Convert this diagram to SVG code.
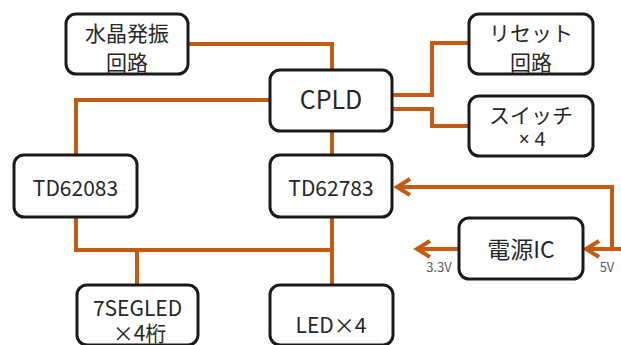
<svg xmlns="http://www.w3.org/2000/svg" width="621" height="345" viewBox="0 0 621 345">
<style>
.box{fill:#fff;stroke:#1a1a1a;stroke-width:3}
.t{font-family:"Noto Sans CJK JP","Noto Sans",sans-serif;fill:#262626;text-anchor:middle}
.c{fill:none;stroke:#C55A11;stroke-width:4}
.lbl{font-family:"Noto Sans CJK JP","Noto Sans",sans-serif;fill:#595959;font-size:13px;text-anchor:middle}
</style>
<defs>
<marker id="arr" markerUnits="userSpaceOnUse" orient="auto" refX="0" refY="0" markerWidth="30" markerHeight="30" viewBox="-20 -15 30 30" overflow="visible">
<path d="M-13,-8 L0,0 L-13,8" fill="none" stroke="#C55A11" stroke-width="4"/>
</marker>
</defs>
<g id="connectors">
<path class="c" d="M188,44 H332 V70"/>
<path class="c" d="M270,100 H76 V155"/>
<path class="c" d="M332,131 V155"/>
<path class="c" d="M392,95 H432 V43 H469"/>
<path class="c" d="M392,109 H432 V126 H469"/>
<path class="c" d="M76,217 V250 H332"/>
<path class="c" d="M332,217 V285"/>
<path class="c" d="M137,250 V285"/>
<path class="c" d="M459,249 H417" marker-end="url(#arr)"/>
<path class="c" d="M621,249 H586" marker-end="url(#arr)"/>
<path class="c" d="M612,249 V187 H397" marker-end="url(#arr)"/>
</g>
<g id="crystal">
<rect class="box" x="66" y="14" width="122" height="60" rx="10"/>
<text class="t" x="127" y="41" font-size="21">水晶発振</text>
<text class="t" x="127" y="70" font-size="21">回路</text>
</g>
<g id="cpld">
<rect class="box" x="270" y="70" width="122" height="61" rx="10"/>
<text class="t" x="331" y="109" font-size="25">CPLD</text>
</g>
<g id="reset">
<rect class="box" x="469" y="14" width="124" height="60" rx="10"/>
<text class="t" x="531" y="41" font-size="21">リセット</text>
<text class="t" x="531" y="70" font-size="21">回路</text>
</g>
<g id="switch">
<rect class="box" x="469" y="96" width="124" height="60" rx="10"/>
<text class="t" x="531" y="123" font-size="21">スイッチ</text>
<text class="t" x="532" y="146" font-size="19" style="font-family:'Noto Sans',sans-serif">× 4</text>
</g>
<g id="td62083">
<rect class="box" x="14" y="155" width="123" height="62" rx="10"/>
<text class="t" x="75.5" y="196" font-size="21">TD62083</text>
</g>
<g id="td62783">
<rect class="box" x="270" y="155" width="122" height="62" rx="10"/>
<text class="t" x="331" y="196" font-size="21">TD62783</text>
</g>
<g id="power">
<rect class="box" x="459" y="218" width="124" height="61" rx="10"/>
<text class="t" x="521" y="258" font-size="23">電源IC</text>
<text class="lbl" x="439" y="272">3.3V</text>
<text class="lbl" x="607" y="272">5V</text>
</g>
<g id="sevenseg">
<rect class="box" x="77" y="285" width="121" height="60" rx="10"/>
<text class="t" x="137.5" y="316" font-size="21">7SEGLED</text>
<text class="t" x="139.5" y="341" font-size="21">×4桁</text>
</g>
<g id="led">
<rect class="box" x="270" y="285" width="123" height="60" rx="10"/>
<text class="t" x="331" y="333" font-size="21">LED×4</text>
</g>
</svg>
